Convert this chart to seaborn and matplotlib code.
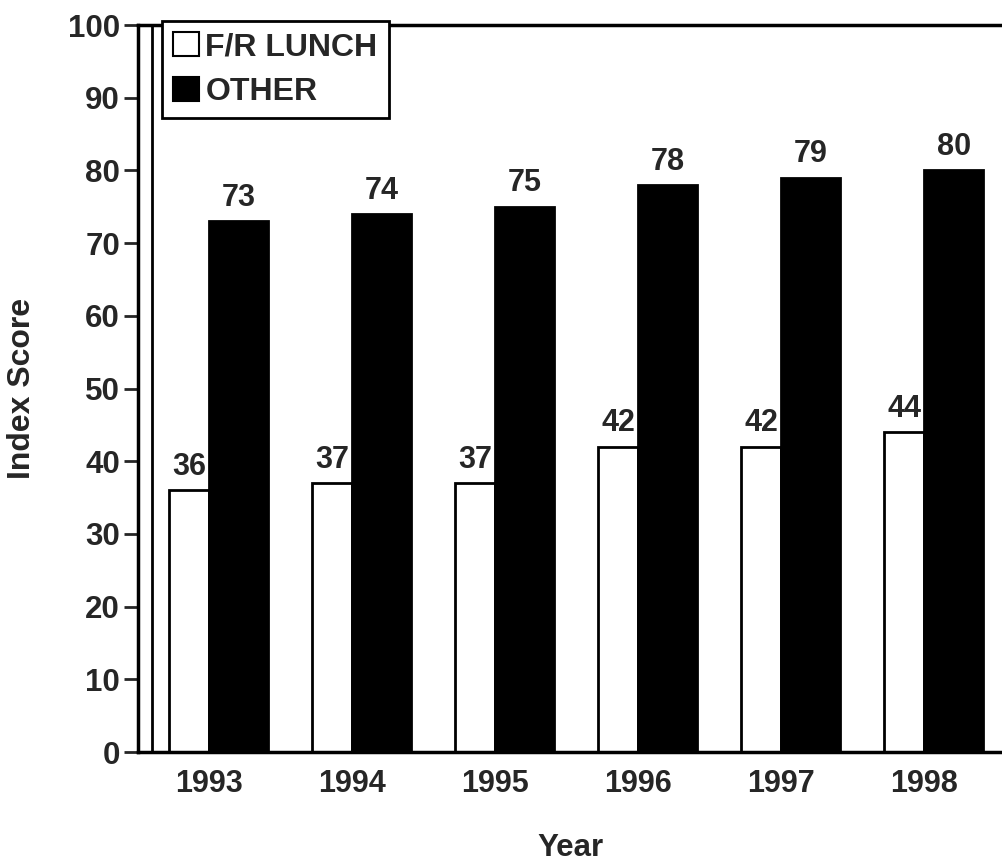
import matplotlib
matplotlib.use("Agg")
import matplotlib.pyplot as plt
import pandas as pd
import seaborn as sns
from matplotlib.patches import Patch

years = ["1993", "1994", "1995", "1996", "1997", "1998"]
groups = ["F/R LUNCH", "OTHER"]
fr_lunch = [36, 37, 37, 42, 42, 44]
other = [73, 74, 75, 78, 79, 80]
colors = {"F/R LUNCH": "white", "OTHER": "black"}

df = pd.DataFrame({
    "Year": years * 2,
    "Score": fr_lunch + other,
    "Group": [groups[0]] * len(years) + [groups[1]] * len(years),
})

sns.set_style("ticks")
plt.rcParams["font.family"] = ["Liberation Sans", "DejaVu Sans"]
plt.rcParams["font.weight"] = "bold"

fig = plt.figure(figsize=(10.03, 8.66), dpi=100)
ax = fig.add_axes([0.1376, 0.1316, 0.8624, 0.8395])

sns.barplot(data=df, x="Year", y="Score", hue="Group", palette=colors,
            edgecolor="black", linewidth=2, width=0.82, gap=0,
            errorbar=None, legend=False, ax=ax)

# narrow white bars, wide black bars; they meet at the year tick
white_w = 0.28
for p in ax.containers[0]:
    right = p.get_x() + p.get_width()
    p.set_width(white_w)
    p.set_x(right - white_w)

for cont in ax.containers:
    ax.bar_label(cont, fmt="%d", padding=6, fontsize=22, fontweight="bold")

ax.set_ylim(0, 100)
ax.set_yticks(range(0, 101, 10))
ax.set_xlim(-0.5, 5.55)
ax.axvline(-0.40, color="black", lw=2, zorder=0.5)

for side in ["left", "top", "bottom"]:
    ax.spines[side].set_linewidth(2.5)
    ax.spines[side].set_color("black")
ax.spines["right"].set_visible(False)

ax.tick_params(axis="y", direction="out", length=10, width=2, pad=3,
               labelsize=22.5)
ax.tick_params(axis="x", length=0, pad=12, labelsize=22)
for lbl in ax.get_xticklabels() + ax.get_yticklabels():
    lbl.set_fontweight("bold")

ax.set_xlabel("Year", fontsize=22.5, fontweight="bold", labelpad=25)
ax.set_ylabel("Index Score", fontsize=23, fontweight="bold", labelpad=22)

handles = [Patch(facecolor=colors[g], edgecolor="black", linewidth=1.5, label=g)
           for g in groups]
leg = ax.legend(handles=handles, loc="upper left", bbox_to_anchor=(0.028, 1.006),
                frameon=True, fancybox=False, prop={"weight": "bold", "size": 23},
                handlelength=0.8, handleheight=0.8, handletextpad=0.2,
                borderpad=0.35, labelspacing=0.45, borderaxespad=0)
leg.get_frame().set_edgecolor("black")
leg.get_frame().set_linewidth(2)
leg.get_frame().set_alpha(1)

fig.savefig("out.png", dpi=100)
